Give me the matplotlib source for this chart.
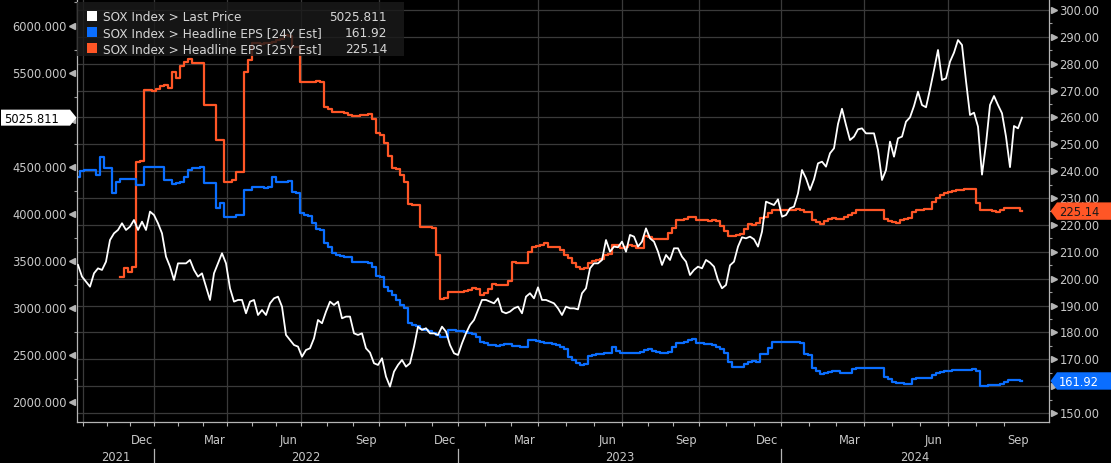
import numpy as np
import matplotlib
matplotlib.use("Agg")
import matplotlib.pyplot as plt
from matplotlib.patches import Polygon, Rectangle
from matplotlib.transforms import offset_copy
from matplotlib.ticker import MultipleLocator, FuncFormatter

# ---------------- data (one observation per sample step) ----------------
price = [
    3460, 3336, 3283, 3229, 3371, 3424, 3407, 3495, 3725, 3796, 3832, 3903, 3832, 3867, 3938, 3832, 3920,
    3832, 4027, 3991, 3903, 3796, 3548, 3442, 3300, 3477, 3477, 3477, 3513, 3407, 3336, 3371, 3229, 3088,
    3371, 3477, 3584, 3477, 3212, 3070, 3088, 3088, 2946, 3070, 3088, 2928, 2981, 2928, 3052, 3105, 3123,
    3017, 2716, 2663, 2609, 2592, 2485, 2556, 2574, 2680, 2875, 2840, 2964, 3070, 3035, 3070, 2893, 2911,
    2911, 2733, 2716, 2733, 2574, 2528, 2415, 2397, 2468, 2273, 2167, 2326, 2397, 2450, 2379, 2415, 2592,
    2804, 2769, 2787, 2733, 2733, 2716, 2804, 2751, 2609, 2521, 2503, 2627, 2733, 2822, 2875, 2981, 3088,
    3088, 3070, 3052, 3105, 2964, 2946, 2964, 2999, 3017, 2946, 3123, 3159, 3105, 3222, 3088, 3088, 3070,
    3052, 2999, 2928, 3017, 2999, 2999, 2988, 3159, 3212, 3424, 3477, 3477, 3513, 3725, 3601, 3655, 3648,
    3708,
    3601, 3779, 3761, 3655, 3708, 3849, 3743, 3708, 3601, 3460, 3566, 3513, 3637, 3637, 3548, 3495, 3353,
    3407, 3442, 3424, 3513, 3485, 3442, 3300, 3212, 3247, 3456, 3495, 3655, 3754, 3743, 3761, 3733, 3655,
    3814, 4133, 4115, 4097, 4158, 3973, 3991, 4062, 4080, 4221, 4469, 4381, 4257, 4370, 4540, 4558, 4505,
    4647, 4700, 4958, 5120, 4948, 4788, 4824, 4902, 4912, 4859, 4859, 4859, 4682, 4363, 4469, 4771, 4611,
    4806, 4824, 4983, 5029, 5150, 5302, 5160, 5136, 5327, 5532, 5745, 5426, 5444, 5621, 5717, 5851, 5798,
    5415, 5054, 5079, 4930, 4420, 4746, 5160, 5256, 5160, 5072, 4824, 4500, 4937, 4912, 5025.811,
]

eps_24y = [
    238.0, 240.2, 240.4, 240.4, 240.4, 238.6, 245.4, 241.1, 241.1, 231.8, 236.1, 237.0, 237.0, 237.0, 237.0,
    234.9, 234.9, 241.7, 241.7, 241.7, 241.7, 241.7, 236.7, 236.7, 235.2, 235.5, 236.1, 238.0, 240.4, 241.1,
    241.1, 241.7, 235.5, 235.5,
    235.7, 226.2, 228.0, 223.1, 223.1, 223.1, 223.7, 223.7, 233.0, 233.0, 234.2, 234.0, 234.0, 233.6, 234.2,
    238.0, 236.1, 236.1, 236.1, 236.5, 232.4, 231.8, 224.3, 223.7, 223.3, 220.8, 218.4, 218.1, 213.1, 211.7,
    209.4, 208.8, 208.4, 208.2,
    208.2, 206.3, 206.3, 206.3, 206.3, 206.0, 204.5, 201.0, 200.5, 197.0, 195.5, 193.9, 192.1, 190.2, 189.0,
    183.6, 182.8, 182.4, 181.1, 180.9, 180.6, 179.9, 179.0, 178.2, 178.4, 180.9, 180.9, 180.6, 180.5, 180.3,
    179.9, 179.4, 178.4, 176.5,
    175.9, 175.3, 175.2, 175.1, 175.4, 175.6, 175.8, 174.9, 174.8, 174.7, 174.4, 177.2, 177.0, 176.7, 176.5,
    176.2, 176.2, 175.8, 175.4, 174.7, 173.7, 171.0, 169.7, 168.5, 167.9, 168.2, 171.2, 171.6, 171.8, 172.0,
    172.2, 172.2, 174.7, 173.2, 172.2,
    172.2, 172.5, 172.5, 172.2, 172.6, 173.4, 173.9, 173.0, 172.8, 172.5, 172.2, 172.7, 174.7, 176.1, 176.2,
    176.5, 177.2, 177.5, 175.9, 175.9, 175.7, 175.6, 175.2, 174.7, 173.9, 172.5, 169.1, 167.2, 167.2, 167.2,
    168.4, 169.1, 169.5, 169.1,
    172.0, 172.0, 174.1, 176.5, 176.5, 176.5, 176.5, 176.5, 176.5, 176.5, 175.9, 172.0, 171.6, 166.6, 165.8,
    164.5, 164.8, 165.4, 165.5, 165.8, 165.0, 164.8, 165.0, 166.3, 166.6, 166.6, 166.6, 166.6, 166.6, 166.6,
    166.6, 163.3, 162.5, 161.7,
    161.0, 161.0, 160.9, 160.9, 162.8, 162.9, 162.9, 162.9, 163.2, 164.1, 164.8, 165.4, 165.8, 165.5, 166.0,
    166.0, 166.0, 166.0, 166.0, 166.3, 165.8, 160.0, 160.2, 160.4, 160.4, 160.4, 160.8, 161.4, 162.3, 162.3,
    162.3, 161.92,
]

eps_25y = [np.nan] * 11 + [
    200.7, 203.8, 202.6, 204.5, 243.5, 243.8, 270.2, 270.2, 269.7, 270.7, 271.7, 272.0, 270.8, 276.9, 274.8,
    279.3, 280.5, 281.9, 280.1, 280.1, 280.1, 264.6, 264.6,
    264.6, 251.6, 251.6, 236.1, 236.1, 236.7, 239.8, 239.8, 277.0, 281.4, 287.6, 287.6, 287.3, 287.6, 287.6,
    288.1, 288.8, 289.1, 290.7, 290.3, 286.3, 286.3, 273.3, 273.3, 273.2, 273.3, 273.4, 273.3, 264.0, 263.0,
    262.2, 262.2, 262.0, 261.8,
    260.8, 260.7, 260.7, 260.8, 260.8, 261.2, 259.3, 254.1, 253.5, 250.4, 245.6, 241.1, 240.9, 238.7, 236.1,
    227.8, 227.4, 227.4, 219.3, 219.3, 219.2, 218.7, 208.8, 192.4, 192.7, 195.2, 195.2, 195.0, 195.2, 195.4,
    195.8, 196.4, 196.3, 194.0,
    194.8, 196.0, 198.0, 197.6, 197.6, 197.6, 199.1, 206.3, 206.0, 206.0, 206.0, 210.0, 211.9, 212.2, 212.4,
    213.4, 211.7, 211.7, 211.7, 210.7, 208.8, 207.6, 205.7, 204.5, 203.7, 203.8, 205.7, 206.6, 206.9, 207.2,
    208.7, 209.1, 212.5, 212.5, 211.5,
    211.8, 212.5, 212.3, 211.3, 211.5, 215.8, 215.6, 214.6, 214.6, 214.6, 214.6, 216.9, 219.0, 221.8, 221.8,
    222.3, 222.8, 223.1, 221.8, 221.8, 221.8, 221.6, 221.7, 221.3, 219.7, 217.6, 215.9, 215.9, 216.2, 216.7,
    218.4, 220.3, 220.0, 220.6,
    222.7, 223.1, 224.3, 225.6, 225.6, 225.6, 225.6, 225.6, 225.6, 225.8, 225.6, 224.8, 224.8, 221.8, 221.2,
    220.3, 221.5, 222.1, 222.5, 222.1, 222.3, 223.1, 223.7, 224.3, 225.6, 225.6, 225.6, 225.6, 225.5, 225.6,
    225.6, 222.2, 221.6, 221.1,
    220.6, 221.8, 222.1, 222.5, 224.9, 225.6, 225.6, 225.8, 226.0, 228.5, 230.0, 231.1, 231.8, 232.1, 232.6,
    233.0, 233.0, 233.2, 233.2, 233.5, 228.0, 225.6, 225.6, 225.4, 225.3, 224.9, 225.7, 226.2, 226.2, 226.2,
    226.4, 225.14,
]

series_names = ["SOX Index > Last Price",
                "SOX Index > Headline EPS [24Y Est]",
                "SOX Index > Headline EPS [25Y Est]"]
last_labels = ["5025.811", "161.92", "225.14"]

# quarter starts (Oct 2021 ... Jul 2024, plus Oct 2024 end) in observation-index units
quarter_pos = [1.25, 19.0, 37.25, 55.75, 75.25, 95.0, 115.0, 136.0, 155.25, 175.75, 196.5, 217.5, 238.5]
quarter_start = ["Oct", "Jan", "Apr", "Jul", "Oct", "Jan", "Apr", "Jul", "Oct", "Jan", "Apr", "Jul"]
quarter_label = {"Oct": "Dec", "Jan": "Mar", "Apr": "Jun", "Jul": "Sep"}
years = ["2021", "2022", "2023", "2024"]

# ---------------- styling ----------------
W, H = 1111, 463
C_WHITE = "#ffffff"
C_BLUE = "#0a6eff"
C_ORANGE = "#ff5626"
C_GRID = "#3a3a3a"
C_TEXT = "#c8c8c8"
C_SPINE = "#b4b4b4"
FS = 8.3

x = np.arange(len(price))
XMIN, XMAX = -0.25, 242.75

fig = plt.figure(figsize=(W / 100, H / 100), dpi=100, facecolor="black")
rect = [77 / W, (H - 422) / H, (1049 - 77) / W, 422 / H]
ax2 = fig.add_axes(rect)            # EPS, right scale (behind)
ax = fig.add_axes(rect, sharex=ax2)  # price, left scale (front)
ax2.set_facecolor("black")
ax.patch.set_visible(False)

# tick labels hidden under the last-value tags in the reference
hidden_left = {5000}
hidden_right = {160}

# ---- right axis (EPS)
ax2.set_ylim(146.65, 303.7)
ax2.yaxis.tick_right()
ax2.yaxis.set_major_locator(MultipleLocator(10))
ax2.yaxis.set_minor_locator(MultipleLocator(5))
ax2.yaxis.set_major_formatter(FuncFormatter(
    lambda v, p: "" if round(v) in hidden_right else f"{v:.2f}"))
ax2.tick_params(axis="y", which="major", length=0, pad=7.5, labelsize=FS, labelcolor=C_TEXT)
ax2.tick_params(axis="y", which="minor", length=2.5, width=0.8, color="#9a9a9a")
ax2.xaxis.set_visible(False)
ax2.grid(False)
for t in np.arange(150, 301, 10):
    ax2.axhline(t, color=C_GRID, lw=0.9, zorder=0.5)
for q in quarter_pos[:-1]:
    ax2.axvline(q, color=C_GRID, lw=0.9, zorder=0.5)
for s in ax2.spines.values():
    s.set_visible(False)
tri_r = offset_copy(ax2.get_yaxis_transform(), fig=fig, x=5.0, y=0, units="dots")
rt = np.arange(150, 301, 10)
ax2.plot(np.ones(len(rt)), rt, transform=tri_r, ls="none", marker=">", ms=4.5,
         color=C_SPINE, clip_on=False, zorder=3)

ax2.plot(x, eps_25y, drawstyle="steps-mid", color=C_ORANGE, lw=1.6, zorder=2)
ax2.plot(x, eps_24y, drawstyle="steps-mid", color=C_BLUE, lw=1.6, zorder=2)

# ---- left axis (price)
ax.set_ylim(1790.6, 6276.4)
ax.set_xlim(XMIN, XMAX)
ax.yaxis.set_major_locator(MultipleLocator(500))
ax.yaxis.set_minor_locator(MultipleLocator(250))
ax.yaxis.set_major_formatter(FuncFormatter(
    lambda v, p: "" if round(v) in hidden_left else f"{v:.3f}"))
ax.tick_params(axis="y", which="major", length=0, pad=7.5, labelsize=FS, labelcolor=C_TEXT)
ax.tick_params(axis="y", which="minor", length=2.5, width=0.8, color="#9a9a9a")
lt = np.arange(2000, 6001, 500)
tri_l = offset_copy(ax.get_yaxis_transform(), fig=fig, x=-5.0, y=0, units="dots")
ax.plot(np.zeros(len(lt)), lt, transform=tri_l, ls="none", marker="<", ms=4.5,
        color=C_SPINE, clip_on=False, zorder=3)

ax.plot(x, price, color=C_WHITE, lw=1.3, zorder=3)

for side in ("left", "bottom", "right"):
    ax.spines[side].set_color(C_SPINE)
    ax.spines[side].set_linewidth(0.9)
ax.spines["top"].set_visible(False)

# x ticks: every month boundary
month_ticks = []
for q0, q1 in zip(quarter_pos[:-1], quarter_pos[1:]):
    month_ticks += [q0, q0 + (q1 - q0) / 3, q0 + 2 * (q1 - q0) / 3]
ax.set_xticks(month_ticks)
ax.set_xticklabels([])
ax.tick_params(axis="x", which="major", length=3, width=0.8, color=C_SPINE, direction="out")

xt = ax.get_xaxis_transform()
for q0, q1, qs in zip(quarter_pos[:-1], quarter_pos[1:], quarter_start):
    ax.text(q0 + 5 * (q1 - q0) / 6, -0.045, quarter_label[qs], transform=xt, ha="center",
            va="center", fontsize=FS, color=C_TEXT, clip_on=False)

jan_pos = [q for q, m in zip(quarter_pos, quarter_start) if m == "Jan"]
bounds = [XMIN] + jan_pos + [XMAX]
for yr, a, b in zip(years, bounds[:-1], bounds[1:]):
    ax.text((a + b) / 2, -0.083, yr, transform=xt, ha="center", va="center",
            fontsize=FS, color=C_TEXT, clip_on=False)
for j in jan_pos:
    ax.plot([j, j], [-0.064, -0.11], transform=xt, color=C_SPINE, lw=0.9, clip_on=False)

# ---------------- legend box ----------------
def fx(px):
    return px / W


def fy(py_top):
    return 1 - py_top / H


fig.add_artist(Rectangle((fx(77), fy(56)), fx(404) - fx(77), fy(2) - fy(56),
                         transform=fig.transFigure, fc="#1a1a1a", ec="none", alpha=0.82, zorder=10))
row_y = [15.8, 31.7, 47.7]
for name, val, col, ry in zip(series_names, last_labels, [C_WHITE, C_BLUE, C_ORANGE], row_y):
    fig.add_artist(Rectangle((fx(87), fy(ry + 5)), fx(97) - fx(87), fy(ry - 5) - fy(ry + 5),
                             transform=fig.transFigure, fc=col, ec="none", zorder=11))
    fig.text(fx(103), fy(ry), name, ha="left", va="center_baseline", fontsize=8.7,
             color="#d6d6d6", zorder=12)
    fig.text(fx(387), fy(ry), val, ha="right", va="center_baseline", fontsize=8.7,
             color="#d6d6d6", zorder=12)

# ---------------- last-value tags ----------------
fig.canvas.draw()


def data_to_top(axis, v):
    return H - axis.transData.transform((0, v))[1]


yp = data_to_top(ax, price[-1])
pts = [(1, yp - 8), (70, yp - 8), (76.5, yp), (70, yp + 8), (1, yp + 8)]
fig.add_artist(Polygon([(fx(a), fy(b)) for a, b in pts], closed=True, transform=fig.transFigure,
                       fc="white", ec="none", zorder=13))
fig.text(fx(4), fy(yp), last_labels[0], ha="left", va="center_baseline", fontsize=FS,
         color="black", zorder=14)

for v, lab, fc, tc in [(eps_25y[-1], last_labels[2], C_ORANGE, "#1a1a1a"),
                       (eps_24y[-1], last_labels[1], C_BLUE, "white")]:
    yy = data_to_top(ax2, v)
    pts = [(1050.5, yy), (1057, yy - 8.7), (1111, yy - 8.7), (1111, yy + 8.7), (1057, yy + 8.7)]
    fig.add_artist(Polygon([(fx(a), fy(b)) for a, b in pts], closed=True, transform=fig.transFigure,
                           fc=fc, ec="none", zorder=13))
    fig.text(fx(1059), fy(yy), lab, ha="left", va="center_baseline", fontsize=FS,
             color=tc, zorder=14)

fig.savefig("out.png", dpi=100, facecolor="black")
